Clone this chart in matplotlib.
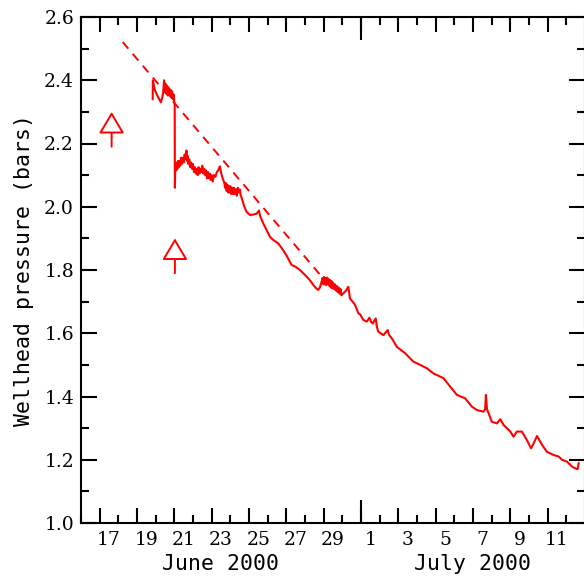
import matplotlib

matplotlib.use("Agg")
import matplotlib.pyplot as plt

# days counted from 31 May 2000 (so 17 = 17 June, 31 = 1 July)
# trace, one segment per row block
day = [
    # 19-21 June, before the drop
    19.84, 19.85, 19.95, 20.10, 20.28, 20.35, 20.40, 20.45,
    20.48, 20.51, 20.54, 20.57, 20.60, 20.64, 20.68, 20.72,
    20.76, 20.80, 20.84, 20.88, 20.92, 20.96, 21.00, 21.02,
    # 21-24 June, noisy plateau
    21.03, 21.05, 21.08, 21.10, 21.13, 21.16, 21.20, 21.24,
    21.28, 21.32, 21.36, 21.40, 21.45, 21.50, 21.55, 21.60,
    21.65, 21.68, 21.72, 21.76, 21.80, 21.85, 21.90, 21.95,
    22.00, 22.05, 22.10, 22.15, 22.20, 22.25, 22.30, 22.35,
    22.40, 22.45, 22.50, 22.55, 22.60, 22.65, 22.70, 22.75,
    22.80, 22.85, 22.90, 22.95, 23.00, 23.06, 23.12, 23.20,
    23.28, 23.35, 23.44, 23.50, 23.56, 23.62, 23.68, 23.72,
    23.76, 23.80, 23.84, 23.88, 23.92, 23.96, 24.00, 24.05,
    24.10, 24.15, 24.20, 24.25, 24.30, 24.35, 24.40, 24.45,
    24.51, 24.56, 24.60,
    # 24-29 June
    24.75, 24.87, 25.05, 25.20, 25.41, 25.53, 25.60, 25.76,
    25.95, 26.12, 26.30, 26.57, 26.80, 27.02, 27.28, 27.50,
    27.73, 28.09, 28.30, 28.44, 28.60, 28.71, 28.80,
    # 29-30 June, noisy
    28.90, 28.94, 28.98, 29.02, 29.06, 29.10, 29.14, 29.18,
    29.22, 29.26, 29.30, 29.34, 29.38, 29.42, 29.46, 29.50,
    29.55, 29.60, 29.65, 29.70, 29.75, 29.80, 29.85, 29.90,
    29.95, 30.05, 30.20, 30.32,
    # 1-13 July
    30.41, 30.68, 30.86, 30.95, 31.13, 31.31, 31.45, 31.55,
    31.63, 31.79, 31.85, 31.93, 32.20, 32.43, 32.50, 32.65,
    32.92, 33.36, 33.81, 34.17, 34.53, 34.88, 35.42, 35.78,
    36.14, 36.58, 36.94, 37.21, 37.56, 37.65, 37.69, 37.75,
    38.01, 38.28, 38.46, 38.64, 39.00, 39.17, 39.35, 39.62,
    39.89, 40.11, 40.25, 40.43, 40.70, 40.96, 41.32, 41.59,
    41.77, 42.04, 42.31, 42.48, 42.60, 42.66,
]
pressure = [
    2.34, 2.40, 2.37, 2.35, 2.33, 2.345, 2.36, 2.40,
    2.365, 2.39, 2.36, 2.385, 2.36, 2.38, 2.355, 2.375,
    2.35, 2.37, 2.345, 2.365, 2.34, 2.355, 2.33, 2.32,
    2.06, 2.12, 2.135, 2.115, 2.14, 2.12, 2.145, 2.125,
    2.145, 2.13, 2.155, 2.135, 2.155, 2.14, 2.165, 2.15,
    2.178, 2.145, 2.16, 2.135, 2.15, 2.125, 2.14, 2.12,
    2.135, 2.11, 2.125, 2.105, 2.12, 2.10, 2.125, 2.105,
    2.12, 2.11, 2.13, 2.105, 2.12, 2.10, 2.115, 2.09,
    2.11, 2.09, 2.105, 2.085, 2.10, 2.08, 2.10, 2.095,
    2.11, 2.115, 2.128, 2.11, 2.095, 2.085, 2.075, 2.06,
    2.075, 2.05, 2.07, 2.045, 2.065, 2.045, 2.065, 2.04,
    2.06, 2.04, 2.06, 2.04, 2.055, 2.035, 2.06, 2.045,
    2.055, 2.035, 2.03,
    2.00, 1.984, 1.974, 1.975, 1.978, 1.988, 1.97, 1.948,
    1.925, 1.905, 1.895, 1.884, 1.865, 1.845, 1.816, 1.81,
    1.80, 1.779, 1.765, 1.753, 1.742, 1.737, 1.745,
    1.765, 1.775, 1.755, 1.778, 1.755, 1.775, 1.752, 1.776,
    1.755, 1.772, 1.75, 1.768, 1.745, 1.765, 1.742, 1.76,
    1.74, 1.755, 1.735, 1.75, 1.73, 1.745, 1.725, 1.74,
    1.72, 1.726, 1.735, 1.747,
    1.71, 1.69, 1.663, 1.66, 1.642, 1.637, 1.649, 1.635,
    1.631, 1.647, 1.62, 1.605, 1.594, 1.61, 1.595, 1.584,
    1.557, 1.537, 1.51, 1.50, 1.489, 1.473, 1.458, 1.431,
    1.405, 1.394, 1.368, 1.357, 1.352, 1.36, 1.405, 1.36,
    1.32, 1.315, 1.328, 1.31, 1.289, 1.273, 1.289, 1.289,
    1.262, 1.236, 1.252, 1.275, 1.247, 1.225, 1.215, 1.21,
    1.20, 1.194, 1.178, 1.173, 1.17, 1.189,
]

trend_day = [18.23, 28.91]
trend_p = [2.521, 1.778]

arrow_day = [17.64, 21.03]
arrow_tip = [2.30, 1.90]
arrow_tail = [2.19, 1.79]

label_days = list(range(17, 43, 2))
label_text = [str(d if d <= 30 else d - 30) for d in label_days]
month_start = [31]
months = [("June 2000", 16, 31), ("July 2000", 31, 43)]

tick_font = "DejaVu Serif"
label_font = "DejaVu Sans Mono"

fig = plt.figure(figsize=(5.84, 5.77), dpi=100)
ax = fig.add_axes([81 / 584, 1 - 523 / 577, 504 / 584, 506 / 577])

ax.plot(day, pressure, color="red", lw=1.5)
ax.plot(trend_day, trend_p, color="red", lw=1.4, linestyle=(0, (4.5, 3.5)))

for x, tip, tail in zip(arrow_day, arrow_tip, arrow_tail):
    ax.annotate(
        "", xy=(x, tip), xytext=(x, tail),
        arrowprops=dict(arrowstyle="-|>,head_width=0.8,head_length=1.35",
                        mutation_scale=10, ec="red", fc="white", lw=1.4,
                        shrinkA=0, shrinkB=0),
    )

ax.set_xlim(16, 43)
ax.set_ylim(1.0, 2.6)

for s in ax.spines.values():
    s.set_linewidth(1.5)

ax.set_xticks(label_days)
ax.set_xticks(range(16, 44, 2), minor=True)
ax.set_xticklabels([])
ax.set_yticks([1.0 + 0.2 * i for i in range(9)])
ax.set_yticks([1.1 + 0.2 * i for i in range(8)], minor=True)
ax.set_yticklabels([f"{1.0 + 0.2 * i:.1f}" for i in range(9)],
                   fontfamily=tick_font, fontsize=13.5)
ax.tick_params(which="major", direction="in", length=11, width=1.5,
               top=True, right=True, pad=5)
ax.tick_params(which="minor", direction="in", length=6, width=1.5,
               top=True, right=True)
ax.tick_params(axis="y", which="major", length=11.5)

# day labels sit at the middle of each day
lab = ax.secondary_xaxis("bottom")
lab.set_xticks([d + 0.5 for d in label_days], labels=label_text,
               fontfamily=tick_font, fontsize=13.5)
lab.tick_params(length=0, pad=6)
lab.spines["bottom"].set_visible(False)

# longer tick at the month boundary
for side in ("bottom", "top"):
    mt = ax.secondary_xaxis(side)
    mt.set_xticks(month_start, labels=[""])
    mt.tick_params(direction="in", length=16.5, width=1.5)
    mt.spines[side].set_visible(False)

for name, a, b in months:
    ax.text((a + b) / 2, -0.081, name, transform=ax.get_xaxis_transform(),
            ha="center", va="center", fontfamily=label_font, fontsize=15.5)

fig.text(24 / 584, 1 - 270 / 577, "Wellhead pressure (bars)", rotation=90,
         ha="center", va="center", fontfamily=label_font, fontsize=15.5)

fig.savefig("out.png", dpi=100)
